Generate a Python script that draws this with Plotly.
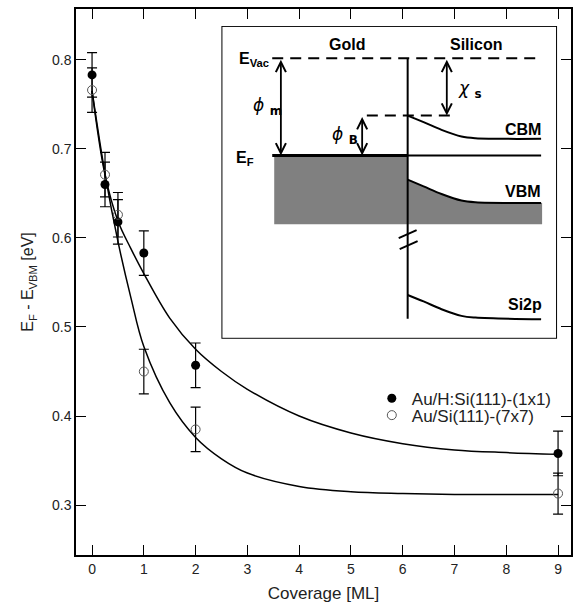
import plotly.graph_objects as go

# ---------------- data ----------------
coverage = [0, 0.25, 0.5, 1, 2, 9]
h_si_1x1 = [0.783, 0.660, 0.618, 0.583, 0.457, 0.358]      # Au/H:Si(111)-(1x1)
si_7x7 = [0.766, 0.671, 0.626, 0.450, 0.385, 0.313]        # Au/Si(111)-(7x7)
h_si_err = [0.025, 0.025, 0.025, 0.025, 0.025, 0.025]
si_7x7_err = [0.025, 0.025, 0.025, 0.025, 0.025, 0.023]

fit_x = [0, 0.25, 0.5, 0.75, 1, 1.5, 2, 2.5, 3, 4, 5, 6, 7, 8, 9]
fit_h_si = [0.765, 0.671, 0.619, 0.588, 0.560, 0.510, 0.475, 0.450, 0.430, 0.400,
            0.381, 0.369, 0.362, 0.359, 0.357]
fit_7x7 = [0.765, 0.672, 0.596, 0.533, 0.478, 0.415, 0.376, 0.352, 0.336, 0.321,
           0.315, 0.313, 0.312, 0.312, 0.312]

x_ticks = [0, 1, 2, 3, 4, 5, 6, 7, 8, 9]
y_ticks = [0.3, 0.4, 0.5, 0.6, 0.7, 0.8]

# ---------------- inset band-diagram geometry (schematic units) ----------------
gold_x = [275, 409]
gold_y = [154, 223]
interface_x = 409
interface_y = [57, 318]
evac_y = 56.5
ef_y = 154
level_x = [273, 543]
barrier_x = [368, 453]
barrier_y = 114
band_x = [409, 425, 443, 463, 477, 543]
cbm_y = [114, 120.5, 128.3, 135, 136.7, 137.3]
vbm_y = [178.3, 185, 192.7, 199.3, 201, 201.7]
si2p_y = [294, 300.5, 308.3, 315, 316.7, 318.3]
vbm_fill_bottom = 223
vbm_fill_right = 544

FONT = "Liberation Sans, Arial, Helvetica, sans-serif"

fig = go.Figure()

# fitted curves
fig.add_trace(go.Scatter(x=fit_x, y=fit_h_si, mode="lines", line=dict(color="black", width=1.5, shape="spline"),
                         showlegend=False, hoverinfo="skip"))
fig.add_trace(go.Scatter(x=fit_x, y=fit_7x7, mode="lines", line=dict(color="black", width=1.5, shape="spline"),
                         showlegend=False, hoverinfo="skip"))

# data points
fig.add_trace(go.Scatter(x=coverage, y=h_si_1x1, mode="markers", name="Au/H:Si(111)-(1x1)", legend="legend",
                         marker=dict(symbol="circle", size=9, color="black"),
                         error_y=dict(type="data", array=h_si_err, color="black", thickness=1.2, width=5)))
fig.add_trace(go.Scatter(x=coverage, y=si_7x7, mode="markers", name="Au/Si(111)-(7x7)", legend="legend2",
                         marker=dict(symbol="circle-open", size=9, color="#555555", line=dict(width=1)),
                         error_y=dict(type="data", array=si_7x7_err, color="black", thickness=1.2, width=5)))

# ---------------- inset ----------------
xa, ya = "x2", "y2"
# gold filled states
fig.add_trace(go.Scatter(x=[gold_x[0], gold_x[1], gold_x[1], gold_x[0], gold_x[0]],
                         y=[gold_y[0], gold_y[0], gold_y[1], gold_y[1], gold_y[0]],
                         fill="toself", fillcolor="#808080", mode="lines", line=dict(width=0, color="#808080"),
                         xaxis=xa, yaxis=ya, showlegend=False, hoverinfo="skip"))
# silicon valence band fill
fig.add_trace(go.Scatter(x=band_x + [vbm_fill_right, vbm_fill_right, band_x[0], band_x[0]],
                         y=vbm_y + [vbm_y[-1], vbm_fill_bottom, vbm_fill_bottom, vbm_y[0]],
                         fill="toself", fillcolor="#808080", mode="lines", line=dict(width=0, color="#808080"),
                         xaxis=xa, yaxis=ya, showlegend=False, hoverinfo="skip"))
# band curves
for yy in (cbm_y, vbm_y, si2p_y):
    fig.add_trace(go.Scatter(x=band_x, y=yy, mode="lines", line=dict(color="black", width=2, shape="spline"),
                             xaxis=xa, yaxis=ya, showlegend=False, hoverinfo="skip"))

shapes = [
    # inset box
    dict(type="rect", xref="x2 domain", yref="y2 domain", x0=0, x1=1, y0=0, y1=1,
         line=dict(color="black", width=2), fillcolor="white", layer="below"),
    # vacuum level
    dict(type="line", xref=xa, yref=ya, x0=level_x[0], x1=level_x[1], y0=evac_y, y1=evac_y,
         line=dict(color="black", width=2, dash="11px,7px")),
    # Fermi level
    dict(type="line", xref=xa, yref=ya, x0=level_x[0], x1=interface_x, y0=ef_y, y1=ef_y,
         line=dict(color="black", width=3)),
    dict(type="line", xref=xa, yref=ya, x0=interface_x, x1=level_x[1], y0=ef_y, y1=ef_y,
         line=dict(color="black", width=2)),
    # barrier dashed line
    dict(type="line", xref=xa, yref=ya, x0=barrier_x[0], x1=barrier_x[1], y0=barrier_y, y1=barrier_y,
         line=dict(color="black", width=2, dash="11px,7px")),
    # interface
    dict(type="line", xref=xa, yref=ya, x0=interface_x, x1=interface_x, y0=interface_y[0], y1=interface_y[1],
         line=dict(color="black", width=2)),
    # axis-break marks
    dict(type="line", xref=xa, yref=ya, x0=400, x1=418, y0=237, y1=229, line=dict(color="black", width=2)),
    dict(type="line", xref=xa, yref=ya, x0=401, x1=419, y0=248, y1=240, line=dict(color="black", width=2)),
]

def arrow(x, y0, y1):
    return dict(x=x, y=y1, ax=x, ay=y0, xref=xa, yref=ya, axref=xa, ayref=ya, text="",
                showarrow=True, arrowhead=5, startarrowhead=5, arrowside="end+start",
                arrowwidth=1.8, arrowsize=1.1, startarrowsize=1.1, arrowcolor="black")

bold = dict(family=FONT, size=16, color="black")
greek = dict(family="DejaVu Sans, " + FONT, size=17, color="black")
annotations = [
    arrow(281.7, evac_y, ef_y),
    arrow(448.3, evac_y, barrier_y),
    arrow(363.3, barrier_y, ef_y),
    dict(x=272, y=58, xref=xa, yref=ya, text="<b>E<sub>Vac</sub></b>", showarrow=False,
         xanchor="right", yanchor="middle", font=bold),
    dict(x=235, y=157, xref=xa, yref=ya, text="<b>E<sub>F</sub></b>", showarrow=False,
         xanchor="left", yanchor="middle", font=bold),
    dict(x=348, y=43, xref=xa, yref=ya, text="<b>Gold</b>", showarrow=False, font=bold),
    dict(x=478, y=43, xref=xa, yref=ya, text="<b>Silicon</b>", showarrow=False, font=bold),
    dict(x=268, y=105, xref=xa, yref=ya, text="<i>ϕ</i> <b><sub>m</sub></b>", showarrow=False, font=greek),
    dict(x=346, y=134, xref=xa, yref=ya, text="<i>ϕ</i> <b><sub>B</sub></b>", showarrow=False, font=greek),
    dict(x=472, y=88, xref=xa, yref=ya, text="<i>χ</i> <b><sub>s</sub></b>", showarrow=False, font=greek),
    dict(x=545, y=128, xref=xa, yref=ya, text="<b>CBM</b>", showarrow=False, xanchor="right", font=bold),
    dict(x=545, y=190, xref=xa, yref=ya, text="<b>VBM</b>", showarrow=False, xanchor="right", font=bold),
    dict(x=546, y=304, xref=xa, yref=ya, text="<b>Si2p</b>", showarrow=False, xanchor="right", font=bold),
]

axis_common = dict(showline=True, linecolor="black", linewidth=1.5, mirror="ticks", ticks="inside",
                   ticklen=10, tickwidth=1.2, tickcolor="black", showgrid=False, zeroline=False,
                   tickfont=dict(family=FONT, size=14, color="#222222"))

legend_common = dict(xanchor="left", yanchor="top", bgcolor="rgba(0,0,0,0)",
                     font=dict(family=FONT, size=17, color="#222222"))

fig.update_layout(
    width=580, height=609,
    margin=dict(l=76, r=7, t=7, b=54),
    paper_bgcolor="white", plot_bgcolor="white",
    font=dict(family=FONT, color="black"),
    xaxis=dict(range=[-0.31, 9.25], tickvals=x_ticks, ticktext=[str(v) for v in x_ticks],
               title=dict(text="Coverage [ML]", font=dict(family=FONT, size=17, color="#222222"), standoff=12),
               **axis_common),
    yaxis=dict(range=[0.244, 0.857], tickvals=y_ticks, ticktext=[f"{v:.1f}" for v in y_ticks],
               title=dict(text="E<sub>F</sub> - E<sub>VBM</sub> [eV]", font=dict(family=FONT, size=16, color="#222222"),
                          standoff=14),
               **axis_common),
    xaxis2=dict(domain=[0.2958, 0.9698], range=[223, 558], visible=False, anchor="y2", fixedrange=True),
    yaxis2=dict(domain=[0.3978, 0.9672], range=[337, 25], visible=False, anchor="x2", fixedrange=True),
    shapes=shapes,
    annotations=annotations,
    showlegend=True,
    legend=dict(x=0.5976, y=0.3193, **legend_common),
    legend2=dict(x=0.5976, y=0.2883, **legend_common),
)

fig.write_html("out.html", config={"displayModeBar": False},
               post_script="document.body.style.margin='0px';document.body.style.padding='0px';")
